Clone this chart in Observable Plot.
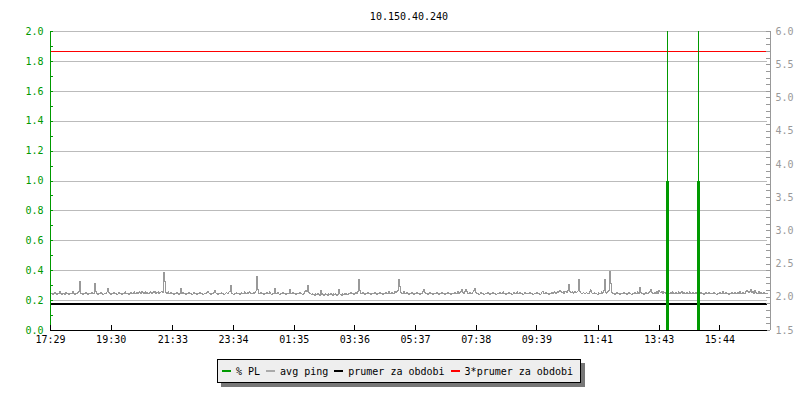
<!DOCTYPE html>
<html>
<head>
<meta charset="utf-8">
<script src="https://cdn.jsdelivr.net/npm/d3@7"></script>
<script src="https://cdn.jsdelivr.net/npm/@observablehq/plot@0.6"></script>
<style>
  body { margin: 0; background: #fff; font-family: "DejaVu Sans Mono", monospace; }
  #wrap { position: relative; width: 800px; height: 400px; }
  #legend {
    position: absolute; left: 217px; top: 359px; width: 364px; height: 24px;
    box-sizing: border-box; padding-left: 4px;
    background: #eeeeee; border: 1px solid #000; box-shadow: 4px 4px 0 #777;
    font-size: 10px; color: #000; display: flex; align-items: center; white-space: pre;
  }
  #legend .item { display: inline-flex; align-items: center; margin-right: 6px; }
  #legend .sw { display: inline-block; width: 9px; height: 2px; margin-right: 5px; }
</style>
</head>
<body>
<div id="wrap"><div id="legend"></div></div>
<script>
// ---------- data ----------
const title = "10.150.40.240";
const startLabel = "17:29";
const stepMinutes = 2;
const spanMinutes = 1430;
// avg ping (right-axis units), one value every 2 minutes from 17:29
const pingValues = [
  2.05,2.06,2.04,2.05,2.07,2.05,2.04,2.06,2.05,2.08,2.05,2.04,2.06,2.05,2.04,2.07,2.05,2.06,2.04,2.05,
  2.06,2.05,2.08,2.05,2.04,2.06,2.05,2.07,2.09,2.24,2.06,2.05,2.04,2.06,2.05,2.07,2.05,2.04,2.06,2.05,
  2.05,2.07,2.05,2.06,2.21,2.08,2.05,2.04,2.06,2.05,2.07,2.06,2.04,2.05,2.06,2.05,2.08,2.13,2.07,2.05,
  2.04,2.06,2.05,2.07,2.05,2.06,2.04,2.05,2.07,2.06,2.05,2.04,2.06,2.05,2.08,2.05,2.06,2.05,2.04,2.06,
  2.07,2.05,2.06,2.08,2.06,2.05,2.07,2.06,2.08,2.07,2.06,2.09,2.07,2.06,2.08,2.06,2.07,2.05,2.06,2.08,
  2.07,2.06,2.08,2.07,2.09,2.06,2.07,2.08,2.06,2.07,2.08,2.09,2.07,2.37,2.23,2.07,2.06,2.08,2.06,2.05,
  2.07,2.05,2.06,2.04,2.06,2.05,2.07,2.05,2.04,2.06,2.13,2.05,2.07,2.06,2.05,2.04,2.06,2.05,2.07,2.05,
  2.06,2.04,2.05,2.07,2.06,2.05,2.04,2.06,2.05,2.07,2.05,2.06,2.04,2.05,2.06,2.05,2.07,2.09,2.06,2.05,
  2.04,2.06,2.05,2.07,2.10,2.06,2.05,2.04,2.06,2.05,2.07,2.05,2.06,2.04,2.05,2.07,2.06,2.05,2.08,2.18,
  2.06,2.05,2.04,2.06,2.05,2.07,2.05,2.06,2.04,2.05,2.07,2.06,2.05,2.08,2.06,2.05,2.07,2.06,2.08,2.05,
  2.06,2.05,2.07,2.06,2.09,2.31,2.12,2.06,2.05,2.07,2.05,2.06,2.04,2.06,2.05,2.07,2.05,2.06,2.08,2.05,
  2.04,2.06,2.05,2.13,2.06,2.05,2.07,2.05,2.04,2.06,2.05,2.07,2.05,2.06,2.04,2.05,2.06,2.05,2.12,2.06,
  2.05,2.07,2.05,2.06,2.04,2.05,2.06,2.05,2.07,2.06,2.05,2.04,2.06,2.08,2.10,2.09,2.18,2.07,2.06,2.05,
  2.04,2.05,2.04,2.03,2.05,2.04,2.06,2.04,2.03,2.10,2.04,2.05,2.03,2.04,2.05,2.04,2.03,2.05,2.04,2.06,
  2.04,2.03,2.05,2.04,2.05,2.03,2.04,2.12,2.05,2.04,2.03,2.05,2.04,2.06,2.04,2.05,2.04,2.06,2.05,2.07,
  2.05,2.06,2.04,2.05,2.07,2.06,2.08,2.27,2.10,2.06,2.05,2.07,2.05,2.04,2.06,2.05,2.07,2.05,2.06,2.04,
  2.05,2.06,2.05,2.07,2.05,2.04,2.06,2.05,2.07,2.06,2.05,2.04,2.06,2.05,2.07,2.05,2.06,2.08,2.05,2.06,
  2.07,2.05,2.06,2.08,2.07,2.09,2.10,2.27,2.16,2.07,2.05,2.06,2.08,2.06,2.05,2.07,2.05,2.04,2.06,2.05,
  2.07,2.05,2.04,2.06,2.05,2.07,2.05,2.06,2.04,2.05,2.06,2.08,2.12,2.07,2.05,2.06,2.04,2.05,2.07,2.05,
  2.06,2.04,2.05,2.06,2.05,2.07,2.05,2.04,2.06,2.05,2.07,2.06,2.05,2.04,2.06,2.05,2.07,2.05,2.06,2.04,
  2.05,2.06,2.05,2.07,2.06,2.05,2.08,2.06,2.07,2.09,2.12,2.07,2.06,2.09,2.12,2.08,2.06,2.05,2.07,2.06,
  2.05,2.08,2.10,2.13,2.07,2.05,2.06,2.04,2.05,2.07,2.05,2.06,2.04,2.05,2.06,2.05,2.07,2.05,2.04,2.06,
  2.05,2.07,2.05,2.06,2.04,2.05,2.06,2.05,2.07,2.06,2.05,2.08,2.06,2.05,2.04,2.06,2.05,2.07,2.05,2.06,
  2.04,2.05,2.07,2.06,2.05,2.08,2.06,2.05,2.07,2.05,2.06,2.04,2.05,2.07,2.06,2.05,2.06,2.05,2.07,2.05,
  2.06,2.04,2.05,2.06,2.05,2.07,2.05,2.06,2.04,2.05,2.08,2.09,2.06,2.05,2.07,2.06,2.05,2.04,2.06,2.05,
  2.07,2.06,2.08,2.07,2.06,2.08,2.07,2.09,2.10,2.08,2.07,2.08,2.06,2.09,2.08,2.07,2.10,2.19,2.08,2.07,
  2.08,2.06,2.07,2.09,2.07,2.08,2.10,2.27,2.08,2.06,2.05,2.07,2.06,2.05,2.07,2.06,2.05,2.08,2.11,2.07,
  2.06,2.05,2.07,2.06,2.05,2.04,2.07,2.06,2.05,2.08,2.06,2.10,2.27,2.07,2.06,2.08,2.10,2.39,2.21,2.07,
  2.05,2.06,2.04,2.05,2.07,2.05,2.06,2.04,2.05,2.06,2.05,2.07,2.05,2.06,2.04,2.05,2.07,2.06,2.05,2.04,
  2.06,2.05,2.07,2.05,2.06,2.08,2.06,2.15,2.07,2.05,2.06,2.04,2.05,2.07,2.06,2.05,2.07,2.08,2.12,2.07,
  2.06,2.05,2.07,2.06,2.09,2.06,2.10,2.08,2.07,2.09,2.06,2.08,2.07,2.06,2.08,2.07,2.06,2.05,2.07,2.06,
  2.08,2.06,2.05,2.07,2.06,2.05,2.08,2.06,2.07,2.09,2.06,2.07,2.05,2.06,2.07,2.05,2.06,2.08,2.06,2.05,
  2.07,2.06,2.05,2.07,2.06,2.05,2.08,2.06,2.07,2.05,2.06,2.04,2.05,2.07,2.06,2.05,2.07,2.06,2.05,2.06,
  2.05,2.07,2.06,2.05,2.04,2.06,2.05,2.07,2.06,2.05,2.09,2.06,2.05,2.07,2.06,2.05,2.04,2.06,2.05,2.07,
  2.06,2.05,2.07,2.06,2.05,2.07,2.06,2.08,2.06,2.05,2.07,2.06,2.05,2.08,2.10,2.09,2.07,2.08,2.12,2.07,
  2.09,2.06,2.10,2.07,2.05,2.06,2.08,2.05,2.07,2.06,2.05,2.07,2.06,2.05,2.06,2.05
];
// packet loss events
const plTimes = ["13:59", "15:01"];
const plValues = [1.0, 1.0];
const meanPing = 1.9;          // prumer za obdobi (right-axis units)
const meanPing3 = 5.7;         // 3*prumer za obdobi
// axes
const xTickLabels = ["17:29","19:30","21:33","23:34","01:35","03:36","05:37","07:38","09:39","11:41","13:43","15:44"];
const leftLabels = [0.0,0.2,0.4,0.6,0.8,1.0,1.2,1.4,1.6,1.8,2.0];
const rightLabels = [1.5,2.0,2.5,3.0,3.5,4.0,4.5,5.0,5.5,6.0];
// legend
const legendLabels = ["% PL", "avg ping", "prumer za obdobi", "3*prumer za obdobi"];
const legendColors = ["#009900", "#aaaaaa", "#000000", "#ff0000"];

// ---------- helpers ----------
const GREEN = "#009900";
const [sh, sm] = startLabel.split(":").map(Number);
const start = new Date(2024, 0, 1, sh, sm);
const end = new Date(+start + spanMinutes * 60000);
function t(hm) {
  const [h, m] = hm.split(":").map(Number);
  let d = new Date(2024, 0, 1, h, m);
  if (d < start) d = new Date(2024, 0, 2, h, m);
  return d;
}
const rMin = rightLabels[0], rMax = rightLabels[rightLabels.length - 1];
const lMax = leftLabels[leftLabels.length - 1];
const toLeft = v => (v - rMin) / (rMax - rMin) * lMax;
const pingData = pingValues.map((v, i) => ({ time: new Date(+start + i * stepMinutes * 60000), v }));
const plData = plTimes.map((s, i) => ({ time: t(s), pl: plValues[i] }));
const xTicks = xTickLabels.map(t);
const leftMinor = d3.range(0, lMax + 1e-9, 0.1);
const rightMinor = d3.range(rMin, rMax + 1e-9, 0.1).map(toLeft);
const min = n => n * 60000;
const crisp = { shapeRendering: "crispEdges" };

const chart = Plot.plot({
  width: 800,
  height: 355,
  marginTop: 31,
  marginBottom: 25,
  marginLeft: 50,
  marginRight: 33,
  style: { fontFamily: "DejaVu Sans Mono", fontSize: "10px", background: "#fff", overflow: "visible" },
  x: { type: "time", domain: [start, end], axis: null },
  y: { domain: [0, lMax], axis: null },
  marks: [
    // grid
    Plot.ruleY(leftLabels.filter(d => d > 0), { stroke: "#bbbbbb", ...crisp }),
    // avg ping
    Plot.line(pingData, { x: "time", y: d => toLeft(d.v), stroke: "#999999", strokeWidth: 1, curve: "step-after", ...crisp }),
    // mean lines
    Plot.ruleY([toLeft(meanPing)], { stroke: "#000", strokeWidth: 2, ...crisp }),
    Plot.ruleY([toLeft(meanPing3)], { stroke: "#ff0000", strokeWidth: 1, ...crisp }),
    // packet loss
    Plot.ruleX(plData, { x: "time", y1: 0, y2: "pl", stroke: GREEN, strokeWidth: 3, ...crisp }),
    Plot.ruleX(plData, { x: "time", y1: "pl", y2: lMax, stroke: GREEN, strokeWidth: 1, ...crisp }),
    // left axis
    Plot.ruleX([start], { y1: 0, y2: lMax, stroke: GREEN, ...crisp }),
    Plot.ruleY(leftMinor, { x1: start, x2: +start + min(6), stroke: GREEN, ...crisp }),
    Plot.text(leftLabels, { y: d => d, frameAnchor: "left", dx: -7, textAnchor: "end", fill: GREEN, text: d => d.toFixed(1) }),
    // right axis
    Plot.ruleX([end], { y1: 0, y2: lMax, stroke: "#999999", dx: 3, ...crisp }),
    Plot.ruleY(rightMinor, { x1: +end - min(7), x2: end, dx: 3, stroke: "#999999", ...crisp }),
    Plot.text(rightLabels, { y: d => toLeft(d), frameAnchor: "right", dx: 8, textAnchor: "start", fill: "#999999", text: d => d.toFixed(1) }),
    // bottom axis
    Plot.ruleY([0], { stroke: "#000", ...crisp }),
    Plot.ruleX(xTicks, { y1: 0, y2: 0.033, stroke: "#000", ...crisp }),
    Plot.text(xTicks, { x: d => d, frameAnchor: "bottom", dy: 12, fill: "#000", text: (d, i) => xTickLabels[i] }),
    // title
    Plot.text([title], { frameAnchor: "top", dy: -19, fill: "#000", text: d => d })
  ]
});
const wrap = document.getElementById("wrap");
wrap.insertBefore(chart, wrap.firstChild);

const legend = document.getElementById("legend");
legendLabels.forEach((lab, i) => {
  const item = document.createElement("span");
  item.className = "item";
  const sw = document.createElement("span");
  sw.className = "sw";
  sw.style.background = legendColors[i];
  const tx = document.createElement("span");
  tx.textContent = lab;
  item.appendChild(sw); item.appendChild(tx);
  legend.appendChild(item);
});
</script>
</body>
</html>
